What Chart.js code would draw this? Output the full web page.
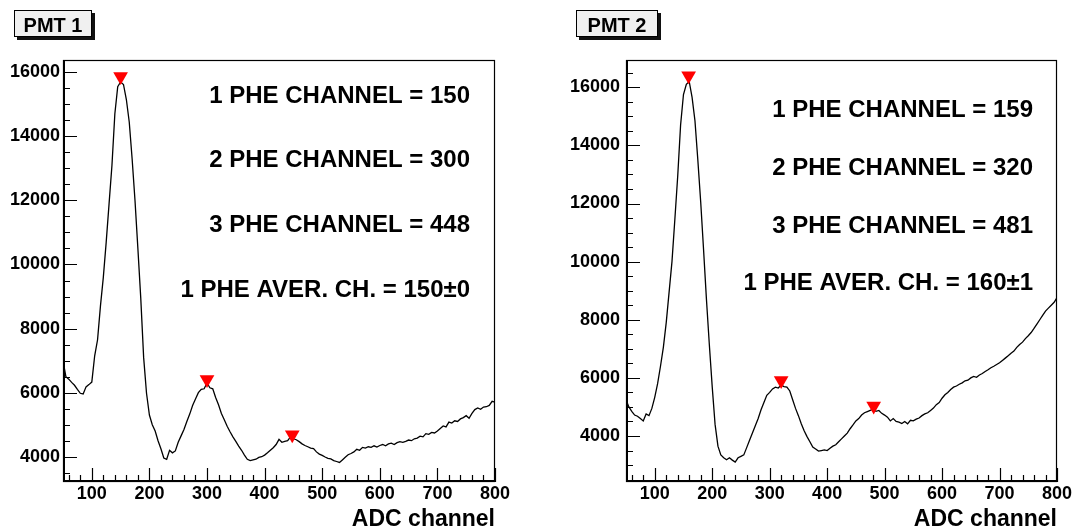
<!DOCTYPE html>
<html><head><meta charset="utf-8">
<script src="https://cdn.jsdelivr.net/npm/chart.js@4"></script>
<style>
html,body{margin:0;padding:0;background:#fff;}
#wrap{position:relative;width:1076px;height:531px;overflow:hidden;}
canvas{position:absolute;top:0;}
</style></head><body>
<div id="wrap">
<canvas id="c1" width="538" height="531" style="left:0px"></canvas>
<canvas id="c2" width="538" height="531" style="left:538px"></canvas>
</div>
<script>
// ---------- DATA ----------
const binStart = 50, binWidth = 5;          // histogram bins: channel 50..800
const xMin = 50, xMax = 800;
const xTickValues = [100, 200, 300, 400, 500, 600, 700, 800];
const xTitle = "ADC channel";

const titles = ["PMT 1", "PMT 2"];

// PMT 1 counts per bin (ch 50,55,...,800)
const counts1 = [
  7000, 6500, 6420, 6320, 6230, 6100, 5980, 5960, 6180, 6250,
  6330, 7150, 7650, 8700, 9600, 10700, 11900, 13100, 14700, 15550,
  15700, 15620, 15150, 14450, 13300, 12000, 10500, 8950, 7100, 5980,
  5300, 5000, 4800, 4500, 4250, 3960, 3920, 4200, 4120, 4180,
  4450, 4650, 4850, 5100, 5330, 5600, 5800, 6000, 6100, 6120,
  6300, 6150, 6120, 5850, 5620, 5350, 5150, 4950, 4780, 4620,
  4480, 4330, 4200, 4050, 3920, 3880, 3900, 3920, 3980, 4000,
  4050, 4120, 4200, 4280, 4380, 4540, 4450, 4480, 4500, 4620,
  4560, 4530, 4470, 4400, 4350, 4310, 4270, 4250, 4150, 4080,
  4040, 3990, 3950, 3930, 3880, 3850, 3820, 3900, 3980, 4060,
  4100, 4150, 4230, 4200, 4290, 4270, 4310, 4290, 4340, 4300,
  4350, 4380, 4340, 4400, 4420, 4380, 4440, 4470, 4450, 4480,
  4520, 4500, 4560, 4580, 4640, 4620, 4720, 4700, 4760, 4740,
  4800, 4880, 4960, 4930, 5080, 5050, 5120, 5100, 5180, 5220,
  5280, 5200, 5350, 5470, 5520, 5480, 5550, 5560, 5600, 5730,
  5700
];
// PMT 2 counts per bin (ch 50,55,...,800)
const counts2 = [
  5250, 5000, 4850, 4720, 4680, 4600, 4520, 4760, 4700, 4950,
  5330, 5800, 6400, 7050, 7900, 8950, 10000, 11450, 12950, 14700,
  15750, 16100, 16200, 15650, 14850, 13500, 12050, 10400, 8700, 7150,
  5700, 4400, 3650, 3350, 3250, 3180, 3250, 3170, 3100, 3250,
  3300, 3350, 3600, 3850, 4100, 4350, 4600, 4900, 5150, 5400,
  5500, 5620, 5680, 5650, 5750, 5700, 5680, 5550, 5250, 4950,
  4700, 4420, 4180, 3980, 3800, 3620, 3550, 3480, 3500, 3520,
  3500, 3580, 3650, 3700, 3800, 3900, 4000, 4100, 4250, 4380,
  4520, 4600, 4720, 4800, 4840, 4880, 4920, 4850, 4880, 4780,
  4720, 4650, 4520, 4600, 4500, 4480, 4430, 4500, 4420, 4540,
  4520, 4580, 4620, 4700, 4760, 4800, 4880, 4960, 5080, 5150,
  5300, 5420, 5500, 5600, 5680, 5720, 5780, 5830, 5900, 5920,
  6000, 6050, 6020, 6100, 6150, 6220, 6280, 6350, 6400, 6460,
  6520, 6600, 6680, 6760, 6850, 6920, 7050, 7150, 7230, 7350,
  7450, 7560, 7700, 7850, 8000, 8150, 8300, 8400, 8500, 8600,
  8760
];

// Peak markers (channel, marker centre in counts)
const peakCh1 = [150, 300, 448];
const markerY1 = [15870, 6410, 4684];
const peakCh2 = [159, 320, 481];
const markerY2 = [16394, 5907, 5033];

// Y axis ranges and tick labels
const yMin1 = 3210, yMax1 = 16384;
const yMin2 = 2417, yMax2 = 16939;
const yTicks1 = [4000, 6000, 8000, 10000, 12000, 14000, 16000];
const yTicks2 = [4000, 6000, 8000, 10000, 12000, 14000, 16000];

// Annotation texts
const notes1 = ["1 PHE CHANNEL = 150", "2 PHE CHANNEL = 300", "3 PHE CHANNEL = 448", "1 PHE AVER. CH. = 150\u00B10"];
const notes2 = ["1 PHE CHANNEL = 159", "2 PHE CHANNEL = 320", "3 PHE CHANNEL = 481", "1 PHE AVER. CH. = 160\u00B11"];

// ---------- STYLE / DRAWING ----------
const FONT = '"Liberation Sans", Arial, Helvetica, sans-serif';

const rootDeco = {
  id: 'rootDeco',
  afterDraw(chart, args, o) {
    const ctx = chart.ctx, a = chart.chartArea;
    const xs = chart.scales.x, ys = chart.scales.y;
    ctx.save();
    ctx.strokeStyle = '#000';
    ctx.lineWidth = 1.2;
    ctx.beginPath();
    for (let v = Math.ceil(xs.min / o.xMinor) * o.xMinor; v <= xs.max; v += o.xMinor) {
      const px = Math.round(xs.getPixelForValue(v)) + 0.5;
      const len = (v % o.xMajor === 0) ? o.majLen : o.minLen;
      ctx.moveTo(px, a.bottom); ctx.lineTo(px, a.bottom - len);
    }
    for (let v = Math.ceil(ys.min / o.yMinor) * o.yMinor; v <= ys.max; v += o.yMinor) {
      const py = Math.round(ys.getPixelForValue(v)) + 0.5;
      const len = (v % o.yMajor === 0) ? o.majLen : o.minLen;
      ctx.moveTo(a.left, py); ctx.lineTo(a.left + len, py);
    }
    ctx.stroke();
    ctx.lineWidth = 1.2;
    ctx.strokeRect(a.left + 0.5, a.top + 0.5, a.right - a.left - 1, a.bottom - a.top - 1);
    ctx.lineWidth = 2;
    ctx.beginPath();
    ctx.moveTo(a.left + 1, a.top); ctx.lineTo(a.left + 1, a.bottom);
    ctx.moveTo(a.left, a.bottom - 1); ctx.lineTo(a.right, a.bottom - 1);
    ctx.stroke();

    const b = o.box;
    ctx.fillStyle = '#111';
    ctx.fillRect(b.x + 3, b.y + 3, b.w, b.h);
    ctx.fillStyle = '#f0f0f0';
    ctx.fillRect(b.x, b.y, b.w, b.h);
    ctx.lineWidth = 1;
    ctx.strokeRect(b.x + 0.5, b.y + 0.5, b.w - 1, b.h - 1);
    ctx.fillStyle = '#000';
    ctx.font = 'bold 20px ' + FONT;
    ctx.textAlign = 'center';
    ctx.textBaseline = 'alphabetic';
    ctx.fillText(o.title, b.x + b.w / 2, b.y + 21.5);

    ctx.font = 'bold 24px ' + FONT;
    ctx.textAlign = 'right';
    o.notes.forEach((t, i) => ctx.fillText(t, o.noteX, o.noteY[i]));
    ctx.restore();
  }
};

function makeChart(id, counts, peakCh, markerY, yMin, yMax, yTicks, s) {
  const pts = counts.map((c, i) => ({ x: binStart + i * binWidth, y: c }));
  const marks = peakCh.map((c, i) => ({ x: c, y: markerY[i] }));
  return new Chart(document.getElementById(id), {
    type: 'scatter',
    data: {
      datasets: [
        { type: 'line', data: pts, borderColor: '#000', borderWidth: 1.3, pointRadius: 0,
          tension: 0, fill: false, order: 2 },
        { type: 'scatter', data: marks, pointStyle: 'triangle', rotation: 180, pointRadius: 8.5,
          pointHoverRadius: 8.5, backgroundColor: '#ff0000', borderWidth: 0, order: 1 }
      ]
    },
    options: {
      responsive: false, animation: false, events: [],
      layout: { padding: { left: 0, top: s.top, right: s.right, bottom: 0 } },
      plugins: { legend: { display: false }, tooltip: { enabled: false }, title: { display: false },
                 rootDeco: s.deco },
      scales: {
        x: {
          type: 'linear', min: xMin, max: xMax,
          grid: { display: false, drawTicks: false }, border: { display: false },
          afterBuildTicks: sc => { sc.ticks = xTickValues.map(v => ({ value: v })); },
          afterFit: sc => { sc.height = s.xAxisH; },
          ticks: { padding: 1, color: '#000', autoSkip: false, maxRotation: 0,
                   font: { family: FONT, size: 18, weight: 'bold' }, callback: v => String(v) },
          title: { display: true, text: xTitle, align: 'end', color: '#000', padding: 0,
                   font: { family: FONT, size: 23, weight: 'bold', lineHeight: 1 } }
        },
        y: {
          type: 'linear', min: yMin, max: yMax,
          grid: { display: false, drawTicks: false }, border: { display: false },
          afterBuildTicks: sc => { sc.ticks = yTicks.map(v => ({ value: v })); },
          afterFit: sc => { sc.width = s.yAxisW; },
          ticks: { padding: s.yPad, color: '#000', autoSkip: false,
                   font: { family: FONT, size: 18, weight: 'bold' }, callback: v => String(v) }
        }
      }
    },
    plugins: [rootDeco]
  });
}

const common = { xMinor: 20, xMajor: 100, yMinor: 500, yMajor: 2000, majLen: 14, minLen: 7 };

makeChart('c1', counts1, peakCh1, markerY1, yMin1, yMax1, yTicks1, {
  top: 60, right: 43, xAxisH: 49, yAxisW: 63, yPad: 3,
  deco: Object.assign({}, common, { title: titles[0], box: { x: 14, y: 10, w: 78, h: 27 },
        notes: notes1, noteX: 470, noteY: [103, 167, 232, 297] })
});
makeChart('c2', counts2, peakCh2, markerY2, yMin2, yMax2, yTicks2, {
  top: 60, right: 19, xAxisH: 49, yAxisW: 88, yPad: 6,
  deco: Object.assign({}, common, { title: titles[1], box: { x: 38, y: 10, w: 82, h: 27 },
        notes: notes2, noteX: 495, noteY: [116.5, 175, 233, 290] })
});
</script>
</body></html>
